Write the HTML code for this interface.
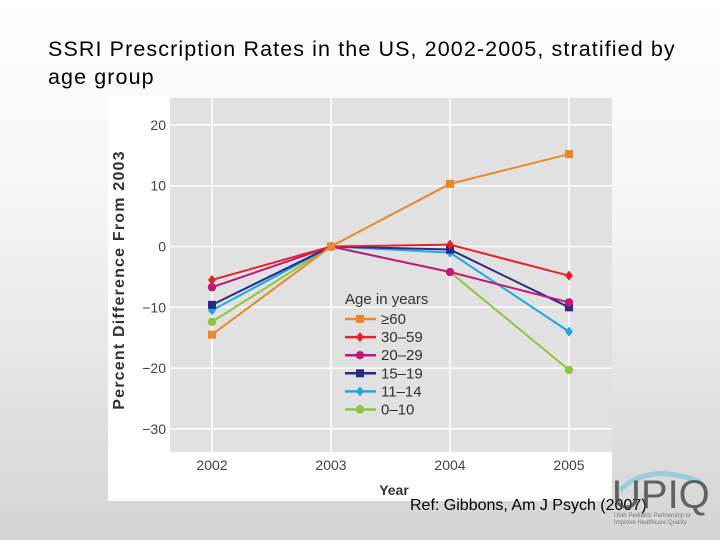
<!DOCTYPE html>
<html><head><meta charset="utf-8"><style>
body{margin:0;width:720px;height:540px;overflow:hidden;font-family:"Liberation Sans",sans-serif;background:linear-gradient(to bottom,#ffffff 0%,#f4f4f4 40%,#d4d4d4 100%);position:relative}
#title{position:absolute;left:48px;top:35px;font-size:21.5px;line-height:28px;color:#000;width:670px;white-space:nowrap;letter-spacing:1.1px}
#ref{position:absolute;left:410px;top:497px;font-size:16px;color:#000}
</style></head><body>
<div id="title">SSRI Prescription Rates in the US, 2002-2005, stratified by<br>age group</div>
<svg id="chart" width="720" height="540" style="position:absolute;left:0;top:0">
<rect x="108" y="98" width="504" height="403" fill="#ffffff"/>
<rect x="170" y="98" width="442" height="354" fill="#e1e1e1"/>
<g id="grid"></g><g id="series"></g><g id="axes"></g><g id="legend"></g>
</svg>
<div id="ref">Ref: Gibbons, Am J Psych (2007)</div>
<svg width="110" height="70" style="position:absolute;left:610px;top:462px">
<path d="M10 28 Q40 0 90 20" stroke="#7fc6e0" stroke-width="5" fill="none" opacity="0.7"/>
<text x="2" y="46" font-family="Liberation Sans,sans-serif" font-size="40" fill="#444" opacity="0.8">UPIQ</text>
<text x="4" y="55" font-size="6" fill="#777" font-family="Liberation Sans,sans-serif">Utah Pediatric Partnership to</text>
<text x="4" y="62" font-size="6" fill="#777" font-family="Liberation Sans,sans-serif">Improve Healthcare Quality</text>
</svg>
<script>
const years=[2002,2003,2004,2005];
const yTicks=[20,10,0,-10,-20,-30];
const seriesNames=["≥60","30–59","20–29","15–19","11–14","0–10"];
const s60=[-14.5,0,10.3,15.2];
const s3059=[-5.5,0,0.3,-4.8];
const s2029=[-6.7,0,-4.2,-9.2];
const s1519=[-9.6,0,-0.5,-10];
const s1114=[-10.5,0,-1,-14];
const s010=[-12.4,0,-4.2,-20.3];
const seriesVals=[s60,s3059,s2029,s1519,s1114,s010];
const colors=["#e8892a","#e8202a","#c0187a","#2a2a8a","#20a8e0","#8cc63f"];
const markers=["square","diamond","circle","square","diamond","circle"];
const NS="http://www.w3.org/2000/svg";
function x(yr){return 212+(yr-2002)*119;}
function y(v){return 246.5-v*6.08;}
function el(t,a,p){const e=document.createElementNS(NS,t);for(const k in a)e.setAttribute(k,a[k]);p.appendChild(e);return e;}
const grid=document.getElementById('grid'),axes=document.getElementById('axes'),ser=document.getElementById('series'),leg=document.getElementById('legend');
yTicks.forEach(v=>{
 const l=el('line',{x1:170,x2:612,y1:y(v),y2:y(v),stroke:'#fff','stroke-width':1.5},grid);
 
 
 const t=el('text',{x:166,y:y(v)+5,'text-anchor':'end','font-size':14,fill:'#444'},axes);
 t.textContent=v<0?'−'+(-v):String(v);
 
 
});
years.forEach(yr=>{
 const l=el('line',{x1:x(yr),x2:x(yr),y1:98,y2:452,stroke:'#fff','stroke-width':1.5},grid);
 
 
 const t=el('text',{x:x(yr),y:470,'text-anchor':'middle','font-size':14,fill:'#444'},axes);
 t.textContent=yr;
 
 
});
const xt=el('text',{x:394,y:495,'text-anchor':'middle','font-size':14,'font-weight':'bold',fill:'#333'},axes);
xt.textContent='Year';


const yt=el('text',{x:0,y:0,transform:'translate(124,280) rotate(-90)','text-anchor':'middle','font-size':16,'font-weight':'bold','letter-spacing':'1.2',fill:'#333'},axes);
yt.textContent='Percent Difference From 2003';


function marker(kind,cx,cy,c,p){
 let m;
 if(kind==='square')m=el('rect',{x:cx-4,y:cy-4,width:8,height:8,fill:c},p);
 else if(kind==='circle')m=el('circle',{cx:cx,cy:cy,r:4.2,fill:c},p);
 else m=el('path',{d:`M${cx} ${cy-5}L${cx+4} ${cy}L${cx} ${cy+5}L${cx-4} ${cy}Z`,fill:c},p);
 return m;
}
for(let i=seriesVals.length-1;i>=0;i--){
 const vals=seriesVals[i];
 const g=el('g',{},ser);
 
 
 const pts=vals.map((v,j)=>x(years[j])+','+y(v)).join(' ');
 el('polyline',{points:pts,fill:'none',stroke:colors[i],'stroke-width':2},g);
 vals.forEach((v,j)=>{
  const m=marker(markers[i],x(years[j]),y(v),colors[i],g);
  
  
 });
}
const lt=el('text',{x:345,y:304,'font-size':15,fill:'#333'},leg);
lt.textContent='Age in years';


seriesNames.forEach((n,i)=>{
 const cy=319+i*18.1;
 const g=el('g',{},leg);
 
 
 el('line',{x1:345,x2:376,y1:cy,y2:cy,stroke:colors[i],'stroke-width':2.5},g);
 marker(markers[i],360,cy,colors[i],g);
 const t=el('text',{x:381,y:cy+5,'font-size':15,fill:'#333'},g);
 t.textContent=n;
});
</script>
</body></html>
